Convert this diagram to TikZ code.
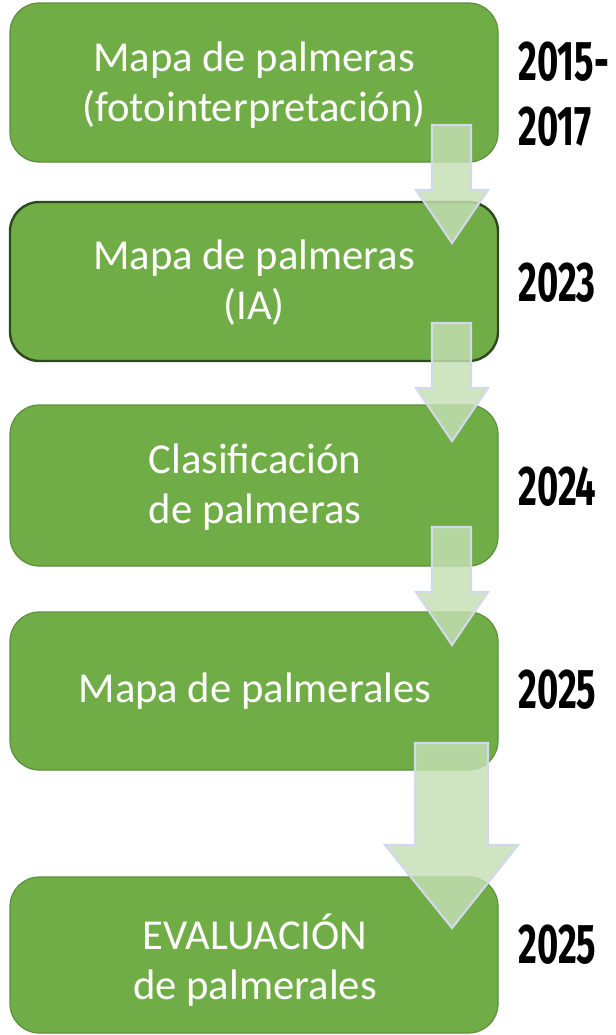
\documentclass[tikz,border=0pt]{standalone}
\usepackage{fontspec}
\setmainfont{Carlito}
\newfontfamily\yearfont{Fira Sans}
\definecolor{boxgreen}{HTML}{70AD47}
\definecolor{boxedge}{HTML}{5E8F3E}
\definecolor{boxdark}{HTML}{2E4A1C}
\definecolor{arrowfill}{HTML}{C5E0B4}
\definecolor{arrowedge}{HTML}{D3D8EC}
\newcommand{\yr}[1]{\scalebox{0.65}[1]{#1}}
\begin{document}
\begin{tikzpicture}[x=0.75pt,y=-0.75pt,
  stagebox/.style={draw=boxedge,line width=0.9pt,fill=boxgreen,rounded corners=22pt},
  stagetext/.style={text=white,font=\fontsize{32}{37.5}\selectfont,align=center},
  yeartext/.style={anchor=west,inner sep=0pt,font=\yearfont\bfseries\fontsize{42}{48.75}\selectfont,align=left},
  blockarrow/.style={fill=arrowfill,fill opacity=0.82,draw=arrowedge,line width=1.6pt,line join=miter}]
\useasboundingbox (0,0) rectangle (616,1035);
\fill[white] (0,0) rectangle (616,1035);
% boxes
\draw[stagebox] (10,3) rectangle (498,162);
\draw[stagebox,draw=boxdark,line width=1.8pt] (10,202) rectangle (498,361);
\draw[stagebox] (10,405) rectangle (498,566);
\draw[stagebox] (10,612) rectangle (498,770);
\draw[stagebox] (10,877) rectangle (498,1033);
% texts
\node[stagetext] (t1) at (254,85) {Mapa de palmeras\\(fotointerpretación)};
\node[stagetext] (t2) at (254,283) {Mapa de palmeras\\(IA)};
\node[stagetext] (t3) at (255,487) {Clasificación\\de palmeras};
\node[stagetext] (t4) at (255,691) {Mapa de palmerales};
\node[stagetext] (t5) at (255,960) {EVALUACIÓN\\de palmerales};
% years
\node[yeartext] (y1) at (518,94) {\yr{2015-}\\\yr{2017}};
\node[yeartext] (y2) at (518,283) {\yr{2023}};
\node[yeartext] (y3) at (518,487) {\yr{2024}};
\node[yeartext] (y4) at (518,690) {\yr{2025}};
\node[yeartext] (y5) at (518,945) {\yr{2025}};
% arrows
\foreach \t in {125,323,527}{
  \draw[blockarrow] (432,\t) -- (471,\t) -- (471,\t+65) -- (488,\t+65) -- (452,\t+118)
     -- (416,\t+65) -- (432,\t+65) -- cycle;
}
\draw[blockarrow] (415,743) -- (488,743) -- (488,845) -- (518,845) -- (452,928)
     -- (385,845) -- (415,845) -- cycle;
\end{tikzpicture}
\end{document}
